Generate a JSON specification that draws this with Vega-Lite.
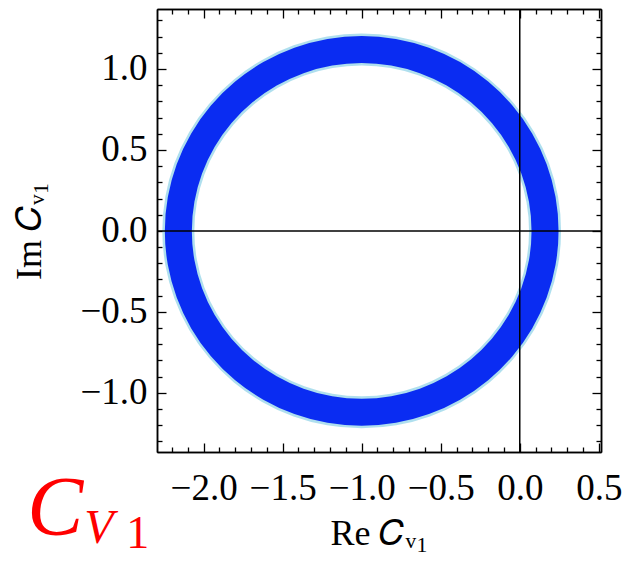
{
  "$schema": "https://vega.github.io/schema/vega-lite/v6.json",
  "width": 444,
  "height": 443,
  "autosize": {"type": "none"},
  "padding": {"left": 157, "top": 9, "right": 25, "bottom": 110},
  "background": "white",
  "config": {
    "view": {"stroke": null},
    "axis": {
      "grid": false,
      "domainColor": "black",
      "domainWidth": 1.5,
      "tickColor": "black",
      "tickWidth": 1.3,
      "labelFont": "Liberation Serif",
      "labelFontSize": 37,
      "labelColor": "black",
      "titleFont": "Liberation Serif",
      "titleFontSize": 36,
      "titleFontWeight": "normal",
      "titleColor": "black",
      "labelOverlap": false,
      "labelFlush": false,
      "labelBound": false
    }
  },
  "datasets": {
    "ring": [
      {"a": 0, "re": 0.16, "im": 0},
      {"a": 10, "re": 0.1424, "im": 0.1944},
      {"a": 20, "re": 0.0901, "im": 0.383},
      {"a": 30, "re": 0.0046, "im": 0.56},
      {"a": 40, "re": -0.1114, "im": 0.7199},
      {"a": 50, "re": -0.2544, "im": 0.8579},
      {"a": 60, "re": -0.42, "im": 0.9699},
      {"a": 70, "re": -0.6033, "im": 1.0525},
      {"a": 80, "re": -0.7986, "im": 1.103},
      {"a": 90, "re": -1, "im": 1.12},
      {"a": 100, "re": -1.2014, "im": 1.103},
      {"a": 110, "re": -1.3967, "im": 1.0525},
      {"a": 120, "re": -1.58, "im": 0.9699},
      {"a": 130, "re": -1.7456, "im": 0.8579},
      {"a": 140, "re": -1.8886, "im": 0.7199},
      {"a": 150, "re": -2.0046, "im": 0.56},
      {"a": 160, "re": -2.0901, "im": 0.383},
      {"a": 170, "re": -2.1424, "im": 0.1944},
      {"a": 180, "re": -2.16, "im": 0},
      {"a": 190, "re": -2.1424, "im": -0.1944},
      {"a": 200, "re": -2.0901, "im": -0.383},
      {"a": 210, "re": -2.0046, "im": -0.56},
      {"a": 220, "re": -1.8886, "im": -0.7199},
      {"a": 230, "re": -1.7456, "im": -0.8579},
      {"a": 240, "re": -1.58, "im": -0.9699},
      {"a": 250, "re": -1.3967, "im": -1.0525},
      {"a": 260, "re": -1.2014, "im": -1.103},
      {"a": 270, "re": -1, "im": -1.12},
      {"a": 280, "re": -0.7986, "im": -1.103},
      {"a": 290, "re": -0.6033, "im": -1.0525},
      {"a": 300, "re": -0.42, "im": -0.9699},
      {"a": 310, "re": -0.2544, "im": -0.8579},
      {"a": 320, "re": -0.1114, "im": -0.7199},
      {"a": 330, "re": 0.0046, "im": -0.56},
      {"a": 340, "re": 0.0901, "im": -0.383},
      {"a": 350, "re": 0.1424, "im": -0.1944}
    ]
  },
  "resolve": {"axis": {"x": "independent", "y": "independent"}},
  "layer": [
    {
      "data": {"name": "ring"},
      "mark": {"type": "line", "interpolate": "cardinal-closed", "color": "#a6dcec", "strokeWidth": 32, "opacity": 0.9},
      "encoding": {
        "x": {"field": "re", "type": "quantitative",
          "scale": {"domain": [-2.295, 0.514], "nice": false, "zero": false},
          "axis": {"orient": "bottom", "values": [-2, -1.5, -1, -0.5, 0, 0.5], "format": ".1f", "tickSize": -9, "labelPadding": 27, "title": "Re 𝐶ᵥ₁", "titlePadding": 10}},
        "y": {"field": "im", "type": "quantitative",
          "scale": {"domain": [-1.365, 1.37], "nice": false, "zero": false},
          "axis": {"orient": "left", "values": [-1, -0.5, 0, 0.5, 1], "format": ".1f", "tickSize": -9, "labelPadding": 19, "title": "Im 𝐶ᵥ₁", "titlePadding": 31}},
        "order": {"field": "a", "type": "quantitative"}
      }
    },
    {
      "data": {"name": "ring"},
      "mark": {"type": "line", "interpolate": "cardinal-closed", "color": "#0a2cf2", "strokeWidth": 27},
      "encoding": {
        "x": {"field": "re", "type": "quantitative",
          "scale": {"domain": [-2.295, 0.514], "nice": false, "zero": false},
          "axis": {"orient": "bottom", "values": [-2.2, -2.1, -1.9, -1.8, -1.7, -1.6, -1.4, -1.3, -1.2, -1.1, -0.9, -0.8, -0.7, -0.6, -0.4, -0.3, -0.2, -0.1, 0.1, 0.2, 0.3, 0.4], "tickSize": -5, "labels": false, "title": null}},
        "y": {"field": "im", "type": "quantitative",
          "scale": {"domain": [-1.365, 1.37], "nice": false, "zero": false},
          "axis": {"orient": "left", "values": [-1.3, -1.2, -1.1, -0.9, -0.8, -0.7, -0.6, -0.4, -0.3, -0.2, -0.1, 0.1, 0.2, 0.3, 0.4, 0.6, 0.7, 0.8, 0.9, 1.1, 1.2, 1.3], "tickSize": -5, "labels": false, "title": null}},
        "order": {"field": "a", "type": "quantitative"}
      }
    },
    {
      "data": {"values": [{"v": 0}]},
      "mark": {"type": "rule", "color": "black", "strokeWidth": 1.5},
      "encoding": {
        "y": {"field": "v", "type": "quantitative", "axis": null}
      }
    },
    {
      "data": {"values": [{"v": 0}]},
      "mark": {"type": "rule", "color": "black", "strokeWidth": 1.5},
      "encoding": {
        "x": {"field": "v", "type": "quantitative", "axis": null}
      }
    },
    {
      "data": {"values": [{"t": "C", "px": -3.116, "py": -1.877}]},
      "mark": {"type": "text", "font": "Liberation Serif", "fontSize": 84, "fontStyle": "italic", "color": "#ff0000", "align": "left", "baseline": "alphabetic"},
      "encoding": {
        "x": {"field": "px", "type": "quantitative",
          "axis": {"orient": "top", "values": [-2, -1.5, -1, -0.5, 0, 0.5], "tickSize": -9, "labels": false, "title": null}},
        "y": {"field": "py", "type": "quantitative",
          "axis": {"orient": "right", "values": [-1, -0.5, 0, 0.5, 1], "tickSize": -9, "labels": false, "title": null}},
        "text": {"field": "t"}
      }
    },
    {
      "data": {"values": [{"t": "V", "px": -2.755, "py": -1.925}]},
      "mark": {"type": "text", "font": "Liberation Serif", "fontSize": 48, "fontStyle": "italic", "color": "#ff0000", "align": "left", "baseline": "alphabetic"},
      "encoding": {
        "x": {"field": "px", "type": "quantitative",
          "axis": {"orient": "top", "values": [-2.2, -2.1, -1.9, -1.8, -1.7, -1.6, -1.4, -1.3, -1.2, -1.1, -0.9, -0.8, -0.7, -0.6, -0.4, -0.3, -0.2, -0.1, 0.1, 0.2, 0.3, 0.4], "tickSize": -5, "labels": false, "title": null}},
        "y": {"field": "py", "type": "quantitative",
          "axis": {"orient": "right", "values": [-1.3, -1.2, -1.1, -0.9, -0.8, -0.7, -0.6, -0.4, -0.3, -0.2, -0.1, 0.1, 0.2, 0.3, 0.4, 0.6, 0.7, 0.8, 0.9, 1.1, 1.2, 1.3], "tickSize": -5, "labels": false, "title": null}},
        "text": {"field": "t"}
      }
    },
    {
      "data": {"values": [{"t": "1", "px": -2.49, "py": -1.96}]},
      "mark": {"type": "text", "font": "Liberation Serif", "fontSize": 46, "color": "#ff0000", "align": "left", "baseline": "alphabetic"},
      "encoding": {
        "x": {"field": "px", "type": "quantitative", "axis": null},
        "y": {"field": "py", "type": "quantitative", "axis": null},
        "text": {"field": "t"}
      }
    }
  ]
}
